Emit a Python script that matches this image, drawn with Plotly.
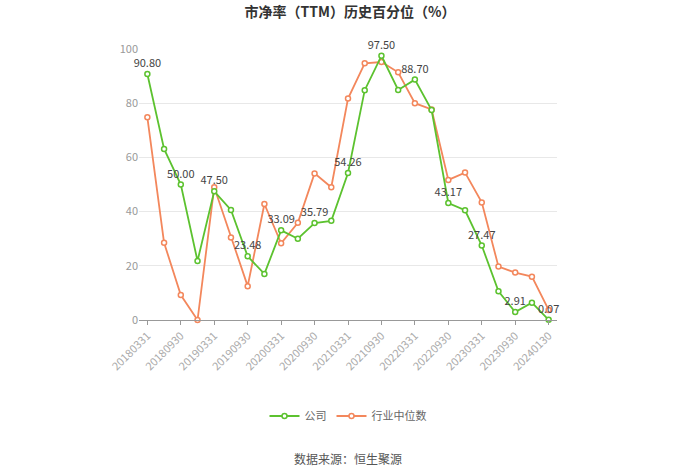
import plotly.graph_objects as go

dates = ["20180331", "20180630", "20180930", "20181231",
         "20190331", "20190630", "20190930", "20191231",
         "20200331", "20200630", "20200930", "20201231",
         "20210331", "20210630", "20210930", "20211231",
         "20220331", "20220630", "20220930", "20221231",
         "20230331", "20230630", "20230930", "20231231",
         "20240130"]
company = [90.80, 63.1, 50.00, 21.8, 47.50, 40.6, 23.48, 17.0,
           33.09, 30.0, 35.79, 36.6, 54.26, 84.8, 97.50, 84.9,
           88.70, 77.5, 43.17, 40.5, 27.47, 10.6, 2.91, 6.4, 0.07]
industry = [74.8, 28.5, 9.2, 0.0, 49.0, 30.4, 12.5, 42.8,
            28.3, 35.9, 54.1, 49.0, 81.7, 94.7, 95.2, 91.4,
            80.0, 77.7, 51.7, 54.4, 43.4, 19.7, 17.5, 16.0, 3.7]
label_idx = list(range(0, len(dates), 2))

GREEN = "#5cc22f"
ORANGE = "#f3875c"
FONT = "Noto Sans CJK SC"

labels = [f"{v:.2f}" if i in label_idx else "" for i, v in enumerate(company)]

fig = go.Figure()
fig.add_trace(go.Scatter(
    x=dates, y=industry, name="行业中位数", mode="lines+markers",
    cliponaxis=False,
    line=dict(color=ORANGE, width=1.8),
    marker=dict(symbol="circle", size=5, color="white",
                line=dict(color=ORANGE, width=1.5)),
))
fig.add_trace(go.Scatter(
    x=dates, y=company, name="公司", mode="lines+markers+text",
    cliponaxis=False,
    text=labels, textposition="top center",
    textfont=dict(size=11, color="#444", family=FONT),
    line=dict(color=GREEN, width=1.8),
    marker=dict(symbol="circle", size=5, color="white",
                line=dict(color=GREEN, width=1.5)),
))

fig.update_layout(
    width=700, height=474,
    margin=dict(l=139, r=143, t=49, b=154),
    paper_bgcolor="white", plot_bgcolor="white",
    font=dict(family=FONT, size=11, color="#999"),
    title=dict(text="<b>市净率（TTM）历史百分位（%）</b>", x=0.5, xanchor="center",
               y=1 - 12 / 474, yanchor="middle",
               font=dict(size=14, color="#333", family=FONT)),
    showlegend=True,
    legend=dict(orientation="h", x=0.5, xanchor="center", y=-(416 - 320) / 271,
                yanchor="middle", traceorder="reversed",
                font=dict(size=11, color="#666", family=FONT),
                itemwidth=30),
    xaxis=dict(type="category", range=[-0.5, len(dates) - 0.5],
               tickmode="array", tickvals=[dates[i] for i in label_idx],
               tickangle=-45, ticks="outside", ticklen=4, tickcolor="#999",
               showline=True, linecolor="#999", linewidth=1,
               showgrid=False, tickfont=dict(size=11, color="#aaa"),
               fixedrange=True),
    yaxis=dict(range=[0, 100], dtick=20, showgrid=True, gridcolor="#e8e8e8",
               zeroline=False, showline=False, ticks="", ticklen=0,
               tickfont=dict(size=11, color="#999"), fixedrange=True),
    annotations=[dict(text="数据来源：恒生聚源", x=0.5, xref="paper",
                      y=-(458 - 320) / 271, yref="paper", showarrow=False,
                      xanchor="center", yanchor="middle",
                      font=dict(size=12, color="#555", family=FONT))],
)
fig.write_html("out.html")
